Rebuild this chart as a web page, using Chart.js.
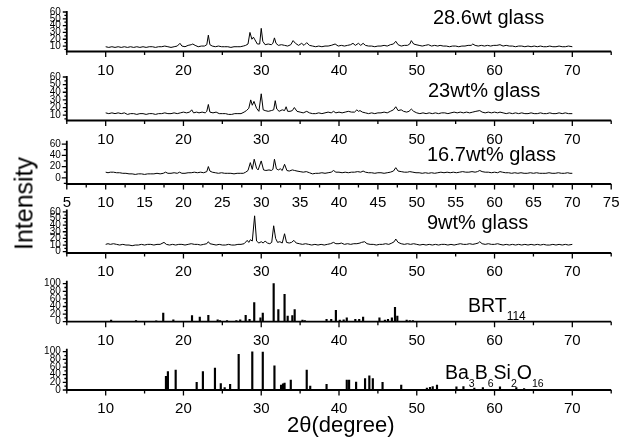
<!DOCTYPE html>
<html><head><meta charset="utf-8">
<script src="https://cdn.jsdelivr.net/npm/chart.js@4.4.1/dist/chart.umd.min.js"></script>
<style>
html,body{margin:0;padding:0;background:#fff;}
#wrap{position:relative;width:634px;height:442px;overflow:hidden;font-family:"Liberation Sans",Arial,sans-serif;color:#000;}
#wrap canvas{position:absolute;left:0;top:0;}
.lbl{position:absolute;white-space:nowrap;line-height:1;}
.sb{position:relative;}
</style></head><body>
<div id="wrap">
<div class="lbl" style="left:433px;top:7px;font-size:20px">28.6wt glass</div>
<div class="lbl" style="left:428px;top:80px;font-size:20px">23wt% glass</div>
<div class="lbl" style="left:427px;top:144px;font-size:20px">16.7wt% glass</div>
<div class="lbl" style="left:427px;top:211.7px;font-size:20px">9wt% glass</div>
<div class="lbl" style="left:468px;top:295.5px;font-size:19.5px">BRT<span class="sb" style="font-size:12px;top:8px">114</span></div>
<div class="lbl" style="left:445px;top:363.3px;font-size:19.5px">Ba<span class="sb" style="font-size:10.5px;top:7.5px">3</span>B<span class="sb" style="font-size:10.5px;top:7.5px">6</span>Si<span class="sb" style="font-size:10.5px;top:7.5px">2</span>O<span class="sb" style="font-size:10.5px;top:7.5px">16</span></div>
<div class="lbl" style="left:-36px;top:190.5px;width:120px;text-align:center;font-size:25px;transform:rotate(-90deg);">Intensity</div>
<div class="lbl" style="left:287px;top:414px;font-size:22px">2θ(degree)</div>
</div>
<script>
// ---- data: [2theta, intensity] ----
const glass286 = [[10.0,9],[10.4,8],[10.8,9],[11.2,8],[11.6,9],[12.0,8],[12.4,9],[12.8,8],[13.2,9],[13.6,8],[14.0,9],[14.4,8],[14.8,9],[15.2,8],[15.6,9],[16.0,9],[16.4,8],[16.8,9],[17.2,9],[17.6,10],[18.0,9],[18.4,8],[18.8,9],[19.2,10],[19.55,14],[19.8,10],[20.2,9],[20.6,11],[21.0,12],[21.2,13],[21.5,11],[21.9,9],[22.3,10],[22.7,10],[23.0,12],[23.2,26],[23.4,12],[23.7,10],[24.1,9],[24.5,10],[24.9,9],[25.3,9],[25.7,9],[26.1,8],[26.5,9],[26.9,9],[27.3,9],[27.7,10],[28.0,11],[28.3,13],[28.55,30],[28.8,20],[29.0,23],[29.2,19],[29.5,13],[29.8,13],[30.0,36],[30.2,17],[30.5,12],[30.9,13],[31.3,12],[31.5,14],[31.7,22],[31.9,14],[32.2,11],[32.6,12],[33.0,11],[33.4,10],[33.8,12],[34.1,18],[34.4,14],[34.8,11],[35.2,14],[35.5,11],[35.85,15],[36.2,11],[36.6,10],[37.0,9],[37.4,10],[37.8,9],[38.2,10],[38.6,10],[39.0,11],[39.5,13],[39.9,10],[40.3,11],[40.7,10],[41.1,11],[41.5,12],[41.8,14],[42.1,11],[42.5,14],[42.8,11],[43.1,14],[43.4,11],[43.8,10],[44.2,10],[44.6,9],[45.0,10],[45.4,10],[45.8,11],[46.2,10],[46.6,12],[47.0,13],[47.3,17],[47.6,12],[48.0,10],[48.4,11],[48.8,11],[49.1,13],[49.3,18],[49.6,13],[49.9,12],[50.3,11],[50.7,10],[51.1,11],[51.5,12],[51.9,10],[52.3,11],[52.7,10],[53.0,11],[53.4,10],[53.8,10],[54.2,9],[54.6,10],[55.0,10],[55.4,9],[55.8,10],[56.2,10],[56.6,11],[57.0,11],[57.2,13],[57.5,11],[57.9,10],[58.3,11],[58.7,10],[59.1,11],[59.5,10],[59.9,11],[60.3,11],[60.7,12],[61.1,10],[61.5,11],[61.9,10],[62.3,10],[62.7,9],[63.1,10],[63.5,10],[63.9,9],[64.3,10],[64.7,9],[65.1,10],[65.5,9],[65.9,10],[66.3,9],[66.7,9],[67.1,10],[67.5,9],[67.9,9],[68.3,10],[68.7,9],[69.1,9],[69.5,10],[70.0,9]];

const glass23 = [[10.0,13],[10.4,12],[10.8,13],[11.2,12],[11.6,13],[12.0,12],[12.4,13],[12.8,11],[13.2,12],[13.6,12],[14.0,11],[14.4,12],[14.8,12],[15.2,11],[15.6,12],[16.0,12],[16.4,11],[16.8,12],[17.2,12],[17.6,13],[18.0,12],[18.4,12],[18.8,13],[19.2,12],[19.6,13],[20.0,14],[20.4,13],[20.8,14],[21.06,17],[21.3,13],[21.7,14],[22.0,13],[22.4,14],[22.8,13],[23.0,15],[23.2,24],[23.4,14],[23.8,13],[24.2,14],[24.6,12],[25.0,12],[25.4,12],[25.8,11],[26.2,11],[26.6,12],[27.0,12],[27.4,12],[27.8,14],[28.1,16],[28.4,19],[28.65,30],[28.85,23],[29.07,28],[29.4,19],[29.7,15],[30.0,38],[30.25,17],[30.5,16],[30.9,15],[31.3,16],[31.6,17],[31.8,29],[32.0,18],[32.3,15],[32.7,17],[33.0,16],[33.2,21],[33.4,15],[33.7,15],[34.0,16],[34.26,20],[34.6,15],[35.0,14],[35.4,13],[35.85,15],[36.2,13],[36.6,12],[37.0,12],[37.4,13],[37.8,12],[38.2,13],[38.6,14],[39.0,13],[39.3,15],[39.6,13],[40.0,14],[40.4,13],[40.8,14],[41.2,15],[41.6,14],[42.0,14],[42.3,17],[42.5,15],[42.7,16],[43.0,14],[43.4,13],[43.8,12],[44.2,13],[44.6,12],[45.0,13],[45.4,13],[45.8,14],[46.2,13],[46.6,15],[47.0,17],[47.3,21],[47.6,16],[48.0,17],[48.3,15],[48.7,14],[49.0,15],[49.3,18],[49.6,15],[50.0,13],[50.4,12],[50.8,13],[51.2,12],[51.6,13],[52.0,12],[52.4,13],[52.8,12],[53.2,13],[53.6,13],[54.0,12],[54.4,13],[54.8,14],[55.2,13],[55.6,14],[56.0,13],[56.4,14],[56.8,13],[57.2,14],[57.6,15],[58.1,16],[58.4,14],[58.8,13],[59.2,14],[59.6,13],[60.0,14],[60.4,13],[60.7,14],[61.1,13],[61.5,12],[61.9,13],[62.3,12],[62.7,13],[63.1,12],[63.5,13],[63.9,12],[64.3,12],[64.7,13],[65.1,12],[65.5,12],[65.9,13],[66.3,12],[66.7,12],[67.1,13],[67.5,12],[67.9,12],[68.3,13],[68.7,12],[69.1,13],[69.5,12],[70.0,12]];

const glass167 = [[10.0,10],[10.3,9],[10.6,10],[11.0,10],[11.4,9],[11.8,9],[12.2,8],[12.6,8],[13.0,7],[13.4,7],[13.8,6],[14.2,7],[14.6,7],[15.0,6],[15.4,7],[15.8,7],[16.2,7],[16.6,8],[17.0,7],[17.4,8],[17.7,10],[18.0,8],[18.4,8],[18.8,9],[19.2,8],[19.5,10],[19.8,8],[20.2,8],[20.6,9],[21.0,9],[21.4,10],[21.8,9],[22.2,10],[22.6,9],[23.0,11],[23.2,20],[23.4,12],[23.7,10],[24.1,9],[24.5,8],[24.9,9],[25.3,8],[25.7,8],[26.1,8],[26.5,7],[26.9,8],[27.3,8],[27.7,8],[28.0,10],[28.3,13],[28.6,27],[28.85,15],[29.1,33],[29.4,17],[29.6,14],[30.0,30],[30.3,14],[30.6,13],[31.0,14],[31.3,13],[31.5,15],[31.7,33],[31.95,16],[32.2,14],[32.45,16],[32.7,13],[33.0,24],[33.3,13],[33.6,12],[34.0,14],[34.3,13],[34.6,12],[35.0,11],[35.4,10],[35.8,11],[36.2,9],[36.6,7],[37.0,8],[37.4,8],[37.8,9],[38.2,8],[38.6,9],[39.0,10],[39.3,13],[39.6,10],[40.0,10],[40.4,9],[40.8,10],[41.2,9],[41.6,10],[42.0,10],[42.4,11],[42.8,10],[43.1,12],[43.4,10],[43.8,9],[44.2,9],[44.6,8],[45.0,9],[45.4,9],[45.8,8],[46.2,9],[46.6,10],[47.0,12],[47.3,18],[47.6,12],[48.0,11],[48.4,10],[48.8,10],[49.1,11],[49.5,10],[49.9,9],[50.3,9],[50.7,8],[51.1,9],[51.5,8],[51.9,9],[52.3,8],[52.7,9],[53.1,10],[53.5,9],[53.9,10],[54.3,9],[54.7,10],[55.1,9],[55.5,10],[55.9,11],[56.3,10],[56.7,10],[57.1,11],[57.5,10],[57.8,11],[58.1,13],[58.4,11],[58.8,10],[59.2,10],[59.6,9],[60.0,10],[60.4,9],[60.7,11],[61.0,10],[61.4,9],[61.8,9],[62.2,8],[62.6,9],[63.0,8],[63.4,9],[63.8,8],[64.2,8],[64.6,9],[65.0,8],[65.4,9],[65.8,8],[66.2,8],[66.6,8],[67.0,9],[67.4,8],[67.8,8],[68.2,9],[68.6,8],[69.0,8],[69.4,9],[69.7,8],[70.0,8]];

const glass9 = [[10.0,11],[10.3,12],[10.6,11],[11.0,12],[11.4,11],[11.8,10],[12.2,11],[12.6,10],[13.0,10],[13.4,9],[13.8,10],[14.2,10],[14.6,11],[15.0,10],[15.4,11],[15.8,11],[16.2,10],[16.6,11],[17.0,11],[17.5,14],[17.8,11],[18.2,10],[18.6,11],[19.0,10],[19.4,11],[19.8,11],[20.2,10],[20.6,11],[21.0,12],[21.4,11],[21.8,11],[22.2,10],[22.6,11],[23.0,12],[23.2,15],[23.4,12],[23.8,11],[24.2,10],[24.6,11],[25.0,10],[25.4,10],[25.8,11],[26.2,10],[26.6,10],[27.0,11],[27.4,11],[27.8,12],[28.2,17],[28.4,14],[28.6,18],[28.85,16],[29.15,54],[29.4,16],[29.7,13],[30.0,15],[30.25,13],[30.5,16],[30.8,13],[31.1,12],[31.35,14],[31.6,39],[31.85,20],[32.1,14],[32.4,15],[32.7,13],[33.0,27],[33.25,14],[33.6,13],[33.9,14],[34.2,17],[34.5,13],[34.9,12],[35.3,11],[35.7,12],[36.1,11],[36.5,10],[36.9,11],[37.3,10],[37.7,11],[38.1,10],[38.5,11],[38.9,12],[39.3,14],[39.6,12],[40.0,12],[40.3,13],[40.7,11],[41.1,12],[41.5,11],[41.9,12],[42.3,12],[42.7,13],[42.9,14],[43.3,15],[43.6,12],[44.0,11],[44.4,11],[44.8,10],[45.2,11],[45.6,11],[46.0,12],[46.4,11],[46.8,13],[47.1,15],[47.3,19],[47.6,14],[48.0,12],[48.4,11],[48.8,12],[49.2,11],[49.6,12],[50.0,11],[50.4,10],[50.8,11],[51.2,10],[51.6,11],[52.0,10],[52.4,11],[52.8,10],[53.2,11],[53.6,11],[54.0,10],[54.4,11],[54.8,10],[55.2,11],[55.6,12],[56.0,11],[56.4,11],[56.8,12],[57.2,11],[57.6,12],[57.9,13],[58.1,15],[58.4,12],[58.8,11],[59.2,12],[59.6,11],[60.0,11],[60.4,12],[60.7,11],[61.1,10],[61.5,11],[61.9,10],[62.3,11],[62.7,10],[63.1,11],[63.5,10],[63.9,11],[64.3,10],[64.7,11],[65.1,10],[65.5,11],[65.9,10],[66.3,11],[66.7,10],[67.1,10],[67.5,11],[67.9,10],[68.3,11],[68.7,10],[69.1,11],[69.5,10],[70.0,11]];

const brt114 = [[10.7,4],[13.9,3],[16.5,2],[17.4,23],[18.7,5],[21.1,16],[22.1,12],[23.2,17],[24.4,5],[24.7,3],[25.6,3],[26.8,3],[27.3,5],[28.0,17],[28.5,6],[29.1,50],[29.9,10],[30.2,23],[31.6,100],[32.2,32],[33.0,72],[33.4,15],[34.0,16],[34.3,32],[35.3,4],[35.6,3],[38.4,6],[39.0,6],[39.6,30],[40.1,4],[40.6,5],[41.0,10],[42.1,6],[42.6,6],[43.1,12],[45.2,10],[45.9,4],[46.3,6],[46.8,10],[47.2,38],[47.5,15],[48.7,4],[49.1,3],[49.5,3]];

const ba3b6si2o16 = [[17.75,36],[18.0,48],[19.0,52],[21.7,20],[22.5,48],[24.05,57],[24.8,17],[25.3,6],[26.0,15],[27.1,93],[28.85,100],[30.2,99],[31.7,63],[32.55,13],[32.8,16],[33.0,18],[33.8,26],[35.85,52],[36.3,10],[38.4,15],[41.0,26],[41.3,26],[42.2,21],[43.35,30],[43.9,37],[44.35,30],[45.6,20],[48.0,13],[51.3,5],[51.7,7],[52.05,9],[52.6,13],[55.1,8],[56.0,9],[57.4,5],[58.5,6],[60.7,8],[62.8,6],[63.8,4]];

// ---- tick labels ----
const xTicksTen = [10,20,30,40,50,60,70];
const xTicksFive = [5,10,15,20,25,30,35,40,45,50,55,60,65,70,75];
const yTicksGlass = [10,20,30,40,50,60];
const yTicks167 = [0,20,40,60];
const yTicks9 = [0,10,20,30,40,50,60];
const yTicksRef = [0,20,40,60,80,100];

// ---- layout ----
const W = 634, H = 442, X_LEFT = 66.8, X_RIGHT = 611.2, XAXIS_H = 30;
const panels = [
  {kind:'line', data:glass286, yMin:2,   yMax:60,  top:8.4,   bottom:51.5,  yTicks:yTicksGlass, xTicks:xTicksTen,  yLen:4},
  {kind:'line', data:glass23,  yMin:3,   yMax:60,  top:77,    bottom:120.5, yTicks:yTicksGlass, xTicks:xTicksTen,  yLen:4},
  {kind:'line', data:glass167, yMin:-11, yMax:64,  top:141.8, bottom:184,   yTicks:yTicks167,   xTicks:xTicksFive, yLen:5},
  {kind:'line', data:glass9,   yMin:-2,  yMax:62,  top:210.5, bottom:253,   yTicks:yTicks9,     xTicks:xTicksTen,  yLen:4},
  {kind:'bar',  data:brt114,   yMin:0,   yMax:105, top:281.8, bottom:321.7, yTicks:yTicksRef,   xTicks:xTicksTen,  yLen:4},
  {kind:'bar',  data:ba3b6si2o16, yMin:0, yMax:105, top:349.8, bottom:390,  yTicks:yTicksRef,   xTicks:xTicksTen,  yLen:4}
];

function minorsOf(major, lo, hi) {
  const step = major[1] - major[0];
  const out = [];
  for (let v = major[0] - step / 2; v <= hi + 1e-9; v += step) if (v >= lo - 1e-9) out.push(v);
  return out;
}

const axesPlugin = {
  id: 'originAxes',
  afterDraw(chart, args, o) {
    const {ctx, chartArea: a, scales: {x, y}} = chart;
    ctx.save();
    ctx.strokeStyle = '#000';
    ctx.lineWidth = 1.3;
    ctx.beginPath();
    o.xMajor.forEach(v => { const p = x.getPixelForValue(v); ctx.moveTo(p, a.bottom); ctx.lineTo(p, a.bottom + 5.5); });
    o.xMinor.forEach(v => { const p = x.getPixelForValue(v); ctx.moveTo(p, a.bottom); ctx.lineTo(p, a.bottom + 3.5); });
    o.yMajor.forEach(v => { const p = y.getPixelForValue(v); ctx.moveTo(a.left, p); ctx.lineTo(a.left - o.yLen, p); });
    o.yMinor.forEach(v => { const p = y.getPixelForValue(v); ctx.moveTo(a.left, p); ctx.lineTo(a.left - o.yLen * 0.6, p); });
    ctx.stroke();
    ctx.lineWidth = 1.8;
    ctx.beginPath();
    ctx.moveTo(a.left, a.top - 1);
    ctx.lineTo(a.left, a.bottom);
    ctx.lineTo(a.right, a.bottom);
    ctx.stroke();
    ctx.restore();
  }
};

Chart.defaults.font.family = '"Liberation Sans", Arial, sans-serif';
Chart.defaults.color = '#000';

const wrap = document.getElementById('wrap');
const firstLabel = wrap.firstChild;
panels.forEach(p => {
  const cv = document.createElement('canvas');
  cv.width = W; cv.height = H;
  wrap.insertBefore(cv, firstLabel);
  const isBar = p.kind === 'bar';
  new Chart(cv, {
    type: isBar ? 'bar' : 'line',
    data: { datasets: [{
      data: p.data.map(([x, y]) => ({x, y})),
      borderColor: '#000', backgroundColor: '#000',
      borderWidth: isBar ? 0 : 1, pointRadius: 0, tension: 0,
      barThickness: 1.5
    }]},
    options: {
      responsive: false, animation: false, devicePixelRatio: 1,
      layout: { padding: { left: 0, right: W - X_RIGHT, top: p.top, bottom: H - p.bottom - XAXIS_H } },
      plugins: {
        legend: { display: false }, tooltip: { enabled: false },
        originAxes: {
          xMajor: p.xTicks, xMinor: minorsOf(p.xTicks, 5, 75),
          yMajor: p.yTicks, yMinor: minorsOf(p.yTicks, p.yMin, p.yMax), yLen: p.yLen
        }
      },
      scales: {
        x: {
          type: 'linear', min: 5, max: 75, offset: false,
          afterFit: s => { s.height = XAXIS_H; },
          afterBuildTicks: s => { s.ticks = p.xTicks.map(v => ({value: v})); },
          grid: { display: false, drawTicks: false }, border: { display: false },
          ticks: { font: { size: 15 }, padding: 10, maxRotation: 0, autoSkip: false, color: '#000' }
        },
        y: {
          type: 'linear', min: p.yMin, max: p.yMax,
          afterFit: s => { s.width = X_LEFT; },
          afterBuildTicks: s => { s.ticks = p.yTicks.map(v => ({value: v})); },
          grid: { display: false, drawTicks: false }, border: { display: false },
          ticks: { font: { size: 10 }, padding: 6, autoSkip: false, color: '#000' }
        }
      }
    },
    plugins: [axesPlugin]
  });
});
</script>
</body></html>
